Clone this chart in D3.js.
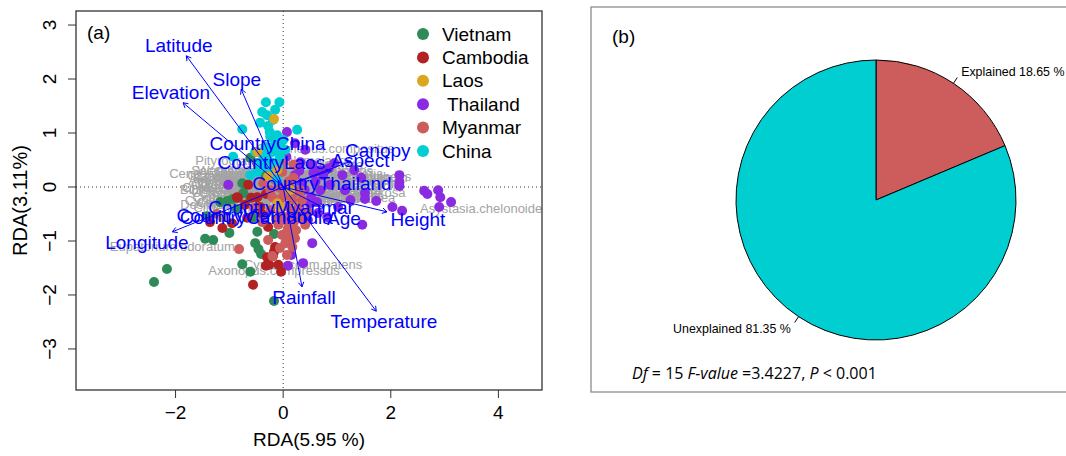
<!DOCTYPE html>
<html><head><meta charset="utf-8">
<script src="https://cdn.jsdelivr.net/npm/d3@7"></script>
<style>
body{margin:0;background:#fff}
svg{display:block}
text{font-family:"Liberation Sans",Arial,sans-serif}
</style>
</head><body>
<svg id="c" width="1066" height="456"></svg>
<script>
// ---------- DATA ----------
const xTicks = [-2, 0, 2, 4];
const yTicks = [-3, -2, -1, 0, 1, 2, 3];
const countries = ["Vietnam", "Cambodia", "Laos", " Thailand", "Myanmar", "China"];
const countryColors = ["#2E8B57", "#B22222", "#DAA520", "#8A2BE2", "#CD5C5C", "#00CED1"];

const vietnamPts = [[-2.40,-1.76],[-2.16,-1.52],[-1.45,-0.96],[-1.30,-0.98],[-1.00,-0.85],[-0.48,-0.83],[-0.17,-0.87],[-0.52,-1.04],[-0.46,-1.15],[-0.41,-1.24],[-0.76,-1.43],[-0.61,-1.57],[-0.17,-2.11],[-1.41,-0.54],[-0.86,-0.41],[-1.04,-0.26],[-1.17,-0.28],[-0.56,-0.57],[-0.76,0.07],[-0.74,-0.11],[-0.61,0.54],[-0.93,-0.22],[-0.61,-0.20],[-0.33,0.22]];
const cambodiaPts = [[-1.36,-0.65],[-1.13,-0.76],[-0.95,-0.67],[-0.84,-0.20],[-0.59,-0.20],[-0.39,-0.50],[-0.15,-1.11],[-0.19,-1.28],[-0.09,-1.44],[-0.04,-1.57],[-0.32,-1.46],[-0.56,-1.81],[-0.67,-0.57],[-0.65,0.04],[-0.86,-0.19],[-0.48,-0.19],[-0.32,-0.13],[-0.28,-0.74],[-0.17,-1.20],[-0.30,-1.30],[-0.26,-1.44],[-0.48,0.44],[-0.71,-0.33],[-0.43,-0.37]];
const laosPts = [[-0.17,1.26],[-1.13,-0.56],[-0.11,-0.30],[-0.11,0.31],[-0.06,-0.37],[-0.48,0.65],[-0.28,0.20],[0.13,-0.06]];
const thailandPts = [[2.16,0.22],[2.16,0.09],[2.16,0.02],[1.73,-0.26],[2.03,-0.37],[2.21,-0.44],[2.62,-0.07],[2.68,-0.13],[2.88,-0.06],[2.92,-0.19],[3.12,-0.28],[2.90,-0.37],[1.52,-0.11],[1.52,-0.22],[1.45,0.17],[1.32,0.31],[1.10,0.22],[0.95,0.44],[0.69,0.31],[0.74,0.22],[0.56,0.26],[0.32,0.46],[0.07,1.02],[0.06,0.56],[0.63,-0.28],[0.52,-0.19],[0.35,0.07],[0.54,0.41],[1.47,-0.70],[0.54,-1.04],[0.15,-1.26],[0.37,-1.41],[0.09,-1.46],[0.82,-0.56],[0.65,-0.48],[1.02,-0.37],[0.50,-0.30],[-1.02,0.04],[0.22,0.81],[0.41,0.69],[0.87,0.04],[1.15,-0.06],[1.25,-0.24],[0.69,-0.06],[0.22,0.22],[0.32,-0.43],[0.46,-0.61],[0.13,-0.80],[0.30,0.30],[0.85,0.35],[0.60,0.10],[0.40,-0.05]];
const myanmarPts = [[0.00,0.44],[0.19,0.41],[-0.02,0.28],[0.19,0.17],[-0.15,0.13],[-0.37,0.07],[-0.24,-0.06],[-0.06,-0.02],[0.13,-0.02],[0.32,-0.06],[-0.20,-0.19],[-0.02,-0.20],[0.17,-0.24],[0.35,-0.24],[-0.09,-0.33],[0.09,-0.37],[0.28,-0.39],[-0.24,-0.43],[-0.06,-0.48],[0.13,-0.52],[0.32,-0.56],[0.02,-0.61],[0.20,-0.65],[-0.09,-0.70],[0.09,-0.76],[0.24,-0.80],[-0.02,-0.89],[0.13,-0.94],[0.04,-1.04],[0.17,-1.11],[-0.06,-1.13],[-0.20,-1.28],[-0.82,-1.15],[-1.23,-0.50],[-0.54,-0.39],[-0.28,-0.98],[0.07,-1.26],[-0.39,-0.65],[0.46,-0.46],[0.41,-0.70],[0.05,-0.15],[0.22,-0.10],[0.00,-0.55],[0.18,-0.45],[0.06,-0.85],[0.22,-0.95],[0.10,0.10],[-0.12,-0.60]];
const chinaPts = [[-0.32,1.57],[-0.07,1.57],[-0.39,1.39],[-0.30,1.33],[-0.43,1.19],[-0.28,1.13],[-0.76,1.07],[-0.24,0.93],[-0.11,0.96],[-0.15,0.81],[-0.33,0.74],[-0.52,0.65],[-0.93,0.56],[-0.37,0.56],[-0.06,0.56],[-0.09,0.37],[-0.48,0.28],[-0.61,0.22],[-0.24,0.19],[-0.11,0.13],[-0.39,0.37],[0.26,1.06],[-0.20,0.65],[-0.19,1.24],[0.00,0.87],[-0.28,0.50],[-0.46,0.44],[-0.15,1.43],[0.04,0.69],[-0.22,0.31],[-0.25,1.02],[-0.12,0.70],[-0.30,0.62],[-0.18,0.45],[-0.05,0.78]];

const envNames = ["Latitude","Slope","Elevation","Longitude","Rainfall","Temperature","Height","Canopy","Aspect","Age"];
const envX = [-1.80,-0.78,-1.86,-2.06,0.35,1.73,1.93,1.26,0.89,0.76];
const envY = [2.43,1.81,1.56,-0.83,-1.85,-2.30,-0.46,0.48,0.31,-0.39];

const centroidNames = ["CountryVietnam","CountryCambodia","CountryLaos","CountryThailand","CountryMyanmar","CountryChina"];
const centroidX = [-0.72,-0.50,-0.22,0.72,-0.04,-0.29];
const centroidY = [-0.52,-0.56,0.46,0.06,-0.37,0.81];

const speciesNames = ["Pityrogramma.calomelanos","Crassocephalum.crepidioides","Chromolaena.odorata","Cynodon.dactylon","Centella.asiatica","Conyza.sumatrensis","Cyperus.rotundus","Oplismenus.compositus","Mimosa.pudica","Bidens.pilosa","Sida.acuta","Ageratum.conyzoides","Paspalum.conjugatum","Imperata.cylindrica","Lantana.camara","Mikania.micrantha","Digitaria.ciliaris","Eleusine.indica","Commelina.benghalensis","Urena.lobata","Hyptis.suaveolens","Cyathula.prostrata","Pteridium.aquilinum","Triumfetta.rhomboidea","Desmodium.triflorum","Clidemia.hirta","Asystasia.chelonoides","Eupatorium.odoratum","Axonopus.compressus","Cyrtococcum.patens",
  "Ageratum.houstonianum","Borreria.alata","Cleome.rutidosperma","Chloris.barbata","Crotalaria.pallida","Cassia.tora","Elephantopus.scaber","Emilia.sonchifolia","Euphorbia.hirta","Hedyotis.corymbosa","Ipomoea.triloba","Kyllinga.brevifolia","Leersia.hexandra","Ludwigia.octovalvis","Melastoma.malabathricum","Microstegium.ciliatum","Panicum.repens","Phyllanthus.urinaria","Scoparia.dulcis","Senna.obtusifolia","Solanum.torvum","Stachytarpheta.jamaicensis","Synedrella.nodiflora","Thysanolaena.latifolia","Vernonia.cinerea","Wedelia.trilobata","Saccharum.spontaneum","Setaria.palmifolia","Hyptis.capitata","Blumea.balsamifera","Axonopus.fissifolius","Fimbristylis.dichotoma","Oldenlandia.diffusa","Ruellia.tuberosa","Tridax.procumbens","Alternanthera.sessilis","Amaranthus.spinosus","Cenchrus.echinatus","Cajanus.scarabaeoides"];
const speciesX = [-0.17,-0.20,-0.71,-0.86,-0.71,-0.61,-0.52,0.78,1.06,0.87,1.25,0.69,0.50,0.32,0.13,-0.06,-0.33,-0.52,-0.33,0.32,0.69,0.50,1.25,0.87,-0.80,-0.93,3.74,-2.06,-0.17,0.37,
  -0.45,-0.95,-0.60,-0.90,-0.75,-0.95,-0.30,-0.10,-0.20,0.10,0.25,0.40,0.55,0.70,0.60,0.90,1.00,0.80,1.15,1.30,0.95,0.20,-0.05,0.45,-0.50,-0.70,-0.40,0.05,0.35,-0.85,-0.25,0.15,-0.55,1.40,1.35,-0.15,0.65,-1.05,-0.35];
const speciesY = [0.50,0.22,0.00,-0.24,0.09,-0.11,0.17,0.72,0.04,-0.09,-0.06,0.13,-0.15,0.04,0.22,-0.06,0.07,-0.11,-0.20,-0.24,0.31,0.41,0.17,-0.20,-0.33,-0.37,-0.39,-1.11,-1.54,-1.44,
  0.12,0.15,-0.05,0.05,0.20,-0.12,0.00,0.10,-0.12,0.08,-0.08,0.12,0.02,-0.10,0.18,0.10,-0.15,0.25,0.12,0.02,-0.02,0.28,-0.20,-0.20,-0.22,0.30,0.30,0.35,0.35,-0.05,0.15,-0.15,0.05,-0.10,0.20,0.25,-0.22,0.25,-0.28];

const pieLabels = ["Explained 18.65 %", "Unexplained 81.35 %"];
const pieValues = [18.65, 81.35];
const pieColors = ["#CD5C5C", "#00CED1"];

// ---------- DRAW ----------
const svg = d3.select("#c");
const L = 76, R = 542, T = 11, B = 390;
const x = d3.scaleLinear().domain([-3.85, 4.81]).range([L, R]);
const y = d3.scaleLinear().domain([-3.76, 3.26]).range([B, T]);

svg.append("defs").append("clipPath").attr("id","clipA")
  .append("rect").attr("x",L).attr("y",T).attr("width",R-L).attr("height",B-T);

// zero lines
svg.append("line").attr("x1",L).attr("x2",R).attr("y1",y(0)).attr("y2",y(0))
  .attr("stroke","#333").attr("stroke-dasharray","1,3");
svg.append("line").attr("x1",x(0)).attr("x2",x(0)).attr("y1",T).attr("y2",B)
  .attr("stroke","#333").attr("stroke-dasharray","1,3");

// species labels
const gSp = svg.append("g").attr("clip-path","url(#clipA)");
gSp.selectAll("text").data(speciesNames).join("text")
  .attr("x",(d,i)=>x(speciesX[i])).attr("y",(d,i)=>y(speciesY[i]))
  .attr("dy","0.35em").attr("text-anchor","middle")
  .attr("font-size",13).attr("fill","#a3a3a3").text(d=>d);

// points
const ptSets = [thailandPts, vietnamPts, cambodiaPts, myanmarPts, chinaPts, laosPts];
const ptColIdx = [3, 0, 1, 4, 5, 2];
ptSets.forEach((pts,k)=>{
  svg.append("g").selectAll("circle").data(pts).join("circle")
    .attr("cx",d=>x(d[0])).attr("cy",d=>y(d[1])).attr("r",5)
    .attr("fill",countryColors[ptColIdx[k]]);
});

// arrows + labels
const blue = "#0000FF";
const fs = 19;
const gA = svg.append("g");
const x0 = x(0), y0 = y(0);
envNames.forEach((n,i)=>{
  const ex = x(envX[i]), ey = y(envY[i]);
  gA.append("line").attr("x1",x0).attr("y1",y0).attr("x2",ex).attr("y2",ey)
    .attr("stroke",blue).attr("stroke-width",1);
  const ang = Math.atan2(ey-y0, ex-x0);
  const len = 5.5, a = Math.PI/6;
  [ang+Math.PI-a, ang+Math.PI+a].forEach(t=>{
    gA.append("line").attr("x1",ex).attr("y1",ey)
      .attr("x2",ex+len*Math.cos(t)).attr("y2",ey+len*Math.sin(t))
      .attr("stroke",blue).attr("stroke-width",1);
  });
});
const gL = svg.append("g");
envNames.forEach((n,i)=>{
  const ex = x(envX[i]), ey = y(envY[i]);
  const t = gL.append("text").attr("font-size",fs).attr("fill",blue)
    .attr("text-anchor","middle").attr("dy","0.35em").text(n);
  const w = t.node().getComputedTextLength();
  const h = fs*0.72;
  const vx = ex - x0, vy = y0 - ey;
  const b = vy/vx;
  let ox = Math.sign(vx)*(w/2 + h/4), oy = 0.75*h*Math.sign(vy);
  const mv = oy/b;
  if (isFinite(mv) && Math.abs(mv) <= Math.abs(ox)) ox = mv; else oy = b*ox;
  t.attr("x", ex+ox).attr("y", ey-oy);
});
centroidNames.forEach((n,i)=>{
  gL.append("text").attr("font-size",fs).attr("fill",blue)
    .attr("text-anchor","middle").attr("dy","0.35em")
    .attr("x",x(centroidX[i])).attr("y",y(centroidY[i])).text(n);
});

// box
svg.append("rect").attr("x",L).attr("y",T).attr("width",R-L).attr("height",B-T)
  .attr("fill","none").attr("stroke","#333").attr("stroke-width",1.3);

// axes
const tk = 8;
const gx = svg.append("g");
gx.selectAll("line").data(xTicks).join("line")
  .attr("x1",d=>x(d)).attr("x2",d=>x(d)).attr("y1",B).attr("y2",B+tk).attr("stroke","#333");
gx.selectAll("text").data(xTicks).join("text")
  .attr("x",d=>x(d)).attr("y",B+29).attr("text-anchor","middle").attr("font-size",fs)
  .text(d=>d<0?"\u2212"+Math.abs(d):d);
const gy = svg.append("g");
gy.selectAll("line").data(yTicks).join("line")
  .attr("y1",d=>y(d)).attr("y2",d=>y(d)).attr("x1",L).attr("x2",L-tk).attr("stroke","#333");
gy.selectAll("text").data(yTicks).join("text")
  .attr("transform",d=>`translate(${L-20},${y(d)}) rotate(-90)`)
  .attr("text-anchor","middle").attr("font-size",fs)
  .text(d=>d<0?"\u2212"+Math.abs(d):d);
svg.append("text").attr("x",(L+R)/2).attr("y",446).attr("text-anchor","middle")
  .attr("font-size",fs).style("white-space","pre").text("RDA(5.95 %)");
svg.append("text").attr("transform",`translate(27,${(T+B)/2}) rotate(-90)`)
  .attr("text-anchor","middle").attr("font-size",20).text("RDA(3.11%)");
svg.append("text").attr("x",87).attr("y",39).attr("font-size",fs).text("(a)");

// legend
const lg = svg.append("g");
countries.forEach((c,i)=>{
  const yy = 34 + i*23.4;
  lg.append("circle").attr("cx",423).attr("cy",yy).attr("r",6).attr("fill",countryColors[i]);
  lg.append("text").attr("x",442).attr("y",yy).attr("dy","0.35em").attr("font-size",fs)
    .style("white-space","pre").text(c);
});

// ---------- PIE ----------
svg.append("rect").attr("x",591).attr("y",7).attr("width",500).attr("height",385)
  .attr("fill","none").attr("stroke","#8c8c8c").attr("stroke-width",1.3);
svg.append("text").attr("x",612).attr("y",43).attr("font-size",fs).text("(b)");
const cx = 876, cy = 200, rr = 140;
const pie = d3.pie().sort(null).value(d=>d)(pieValues);
const arc = d3.arc().innerRadius(0).outerRadius(rr);
const gp = svg.append("g").attr("transform",`translate(${cx},${cy})`);
gp.selectAll("path").data(pie).join("path").attr("d",arc)
  .attr("fill",(d,i)=>pieColors[i]).attr("stroke","#000").attr("stroke-width",1);
pie.forEach((d,i)=>{
  const m = (d.startAngle+d.endAngle)/2;
  const sx = Math.sin(m), sy = -Math.cos(m);
  gp.append("line").attr("x1",rr*sx).attr("y1",rr*sy).attr("x2",1.05*rr*sx).attr("y2",1.05*rr*sy)
    .attr("stroke","#000").attr("stroke-width",1);
  gp.append("text").attr("x",1.1*rr*sx).attr("y",1.1*rr*sy).attr("dy","0.35em")
    .attr("text-anchor",sx>0?"start":"end").attr("font-size",12.4).style("white-space","pre")
    .text(pieLabels[i]);
});
const st = svg.append("text").attr("x",632).attr("y",379).attr("font-size",16)
  .style("font-family","'Open Sans','Noto Sans',sans-serif").style("white-space","pre");
st.append("tspan").attr("font-style","italic").text("Df");
st.append("tspan").text(" = 15 ");
st.append("tspan").attr("font-style","italic").text("F-value");
st.append("tspan").text(" =3.4227, ");
st.append("tspan").attr("font-style","italic").text("P");
st.append("tspan").text(" < 0.001");
</script>
</body></html>
